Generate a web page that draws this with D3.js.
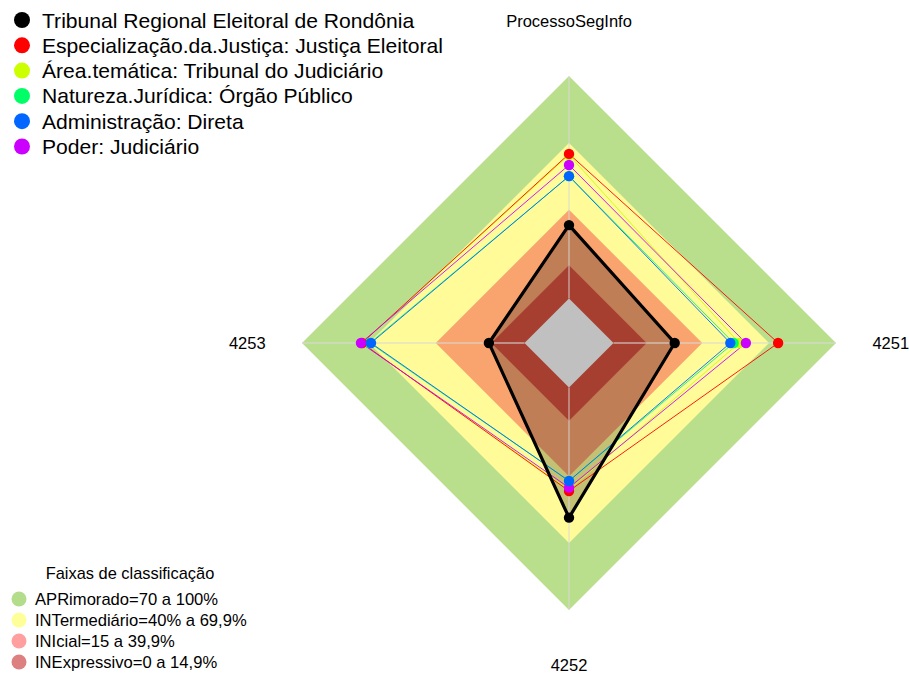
<!DOCTYPE html>
<html>
<head>
<meta charset="utf-8">
<script src="https://cdn.jsdelivr.net/npm/d3@7"></script>
<style>
  html, body { margin: 0; padding: 0; background: #ffffff; }
  svg { display: block; font-family: "Liberation Sans", Arial, sans-serif; }
</style>
</head>
<body>
<svg id="chart" width="909" height="675"></svg>
<script>
// Radar axes (clockwise from the top)
const axes = ["ProcessoSegInfo", "4251", "4252", "4253"];

// Series, one value per axis (percent)
const seriesNames = [
  "Tribunal Regional Eleitoral de Rondônia",
  "Especialização.da.Justiça: Justiça Eleitoral",
  "Área.temática: Tribunal do Judiciário",
  "Natureza.Jurídica: Órgão Público",
  "Administração: Direta",
  "Poder: Judiciário"
];
const seriesColors = ["#000000", "#FF0000", "#CCFF00", "#00FF66", "#0066FF", "#CC00FF"];
const tribunal       = [33.0, 27.5, 58.5, 16.0];
const especializacao = [65.0, 74.0, 46.5, 73.0];
const areaTematica   = [64.5, 56.5, 46.0, 73.0];
const natureza       = [55.0, 54.0, 42.0, 69.5];
const administracao  = [55.0, 52.5, 42.0, 69.0];
const poder          = [60.0, 59.5, 45.0, 73.5];
const seriesValues = [tribunal, especializacao, areaTematica, natureza, administracao, poder];

// Classification bands (upper limit of each band, outer to inner)
const bandNames  = ["APRimorado=70 a 100%", "INTermediário=40% a 69,9%", "INIcial=15 a 39,9%", "INExpressivo=0 a 14,9%"];
const bandLimits = [100, 69.9, 39.9, 14.9];
const bandFills  = ["#b9df8d", "#fffb98", "#f9a46f", "#da5340"];
const bandLegendColors = ["#b3dd8a", "#ffff99", "#ff9f9f", "#dc8080"];
const legendTitle = "Faixas de classificação";

const svg = d3.select("#chart");
const cx = 569, cy = 343, R = 267;
const segments = 5;

// value -> radius; the minimum sits on an inner ring of R/(segments+1)
const rScale = d3.scaleLinear().domain([0, 100]).range([R / (segments + 1), R]);
const angle = d3.scalePoint().domain(d3.range(axes.length + 1)).range([0, 2 * Math.PI]);

const radial = d3.lineRadial()
  .angle((d, i) => angle(i))
  .radius(d => rScale(d))
  .curve(d3.curveLinearClosed);

const g = svg.append("g").attr("transform", `translate(${cx},${cy})`);

// bands
bandLimits.forEach((lim, k) => {
  g.append("path")
    .attr("d", radial(axes.map(() => lim)))
    .attr("fill", bandFills[k])
    .attr("stroke", "none");
});

// translucent body of the reference series
g.append("path")
  .attr("d", radial(seriesValues[0]))
  .attr("fill", "rgba(0,0,0,0.23)")
  .attr("stroke", "none");

// inner core
g.append("path")
  .attr("d", radial(axes.map(() => 0)))
  .attr("fill", "#c0c0c0");

// axis spokes
axes.forEach((a, i) => {
  const t = angle(i);
  g.append("line")
    .attr("x1", rScale(0) * Math.sin(t)).attr("y1", -rScale(0) * Math.cos(t))
    .attr("x2", R * Math.sin(t)).attr("y2", -R * Math.cos(t))
    .attr("stroke", "#d9d9d9").attr("stroke-opacity", 0.7).attr("stroke-width", 1.3);
});

// axis labels
axes.forEach((a, i) => {
  const t = angle(i);
  const lr = R * 1.205;
  g.append("text")
    .attr("x", lr * Math.sin(t)).attr("y", -lr * Math.cos(t))
    .attr("text-anchor", "middle").attr("dominant-baseline", "central")
    .attr("font-size", 16.5).attr("fill", "#000")
    .text(a);
});

// series outlines and points, the reference series on top
const order = [2, 3, 1, 5, 4, 0];
order.forEach(s => {
  const isMain = s === 0;
  g.append("path")
    .attr("d", radial(seriesValues[s]))
    .attr("fill", "none")
    .attr("stroke", seriesColors[s])
    .attr("stroke-width", isMain ? 3.2 : 0.9);
});
order.forEach(s => {
  seriesValues[s].forEach((v, i) => {
    const t = angle(i);
    g.append("circle")
      .attr("cx", rScale(v) * Math.sin(t)).attr("cy", -rScale(v) * Math.cos(t))
      .attr("r", 5.2).attr("fill", seriesColors[s]);
  });
});

// series legend (top left)
const lg = svg.append("g");
seriesNames.forEach((n, i) => {
  const y = 20 + i * 25.3;
  lg.append("circle").attr("cx", 22).attr("cy", y).attr("r", 8).attr("fill", seriesColors[i]);
  lg.append("text").attr("x", 42).attr("y", y).attr("dominant-baseline", "central")
    .attr("font-size", 21.1).attr("fill", "#000").text(n);
});

// band legend (bottom left)
const bl = svg.append("g");
bl.append("text").attr("x", 130).attr("y", 573).attr("text-anchor", "middle")
  .attr("dominant-baseline", "central").attr("font-size", 16.4).attr("fill", "#000").text(legendTitle);
bandNames.forEach((n, i) => {
  const y = 599 + i * 21;
  bl.append("circle").attr("cx", 19).attr("cy", y).attr("r", 7.5).attr("fill", bandLegendColors[i]);
  bl.append("text").attr("x", 35).attr("y", y).attr("dominant-baseline", "central")
    .attr("font-size", 16.6).attr("fill", "#000").text(n);
});
</script>
</body>
</html>
